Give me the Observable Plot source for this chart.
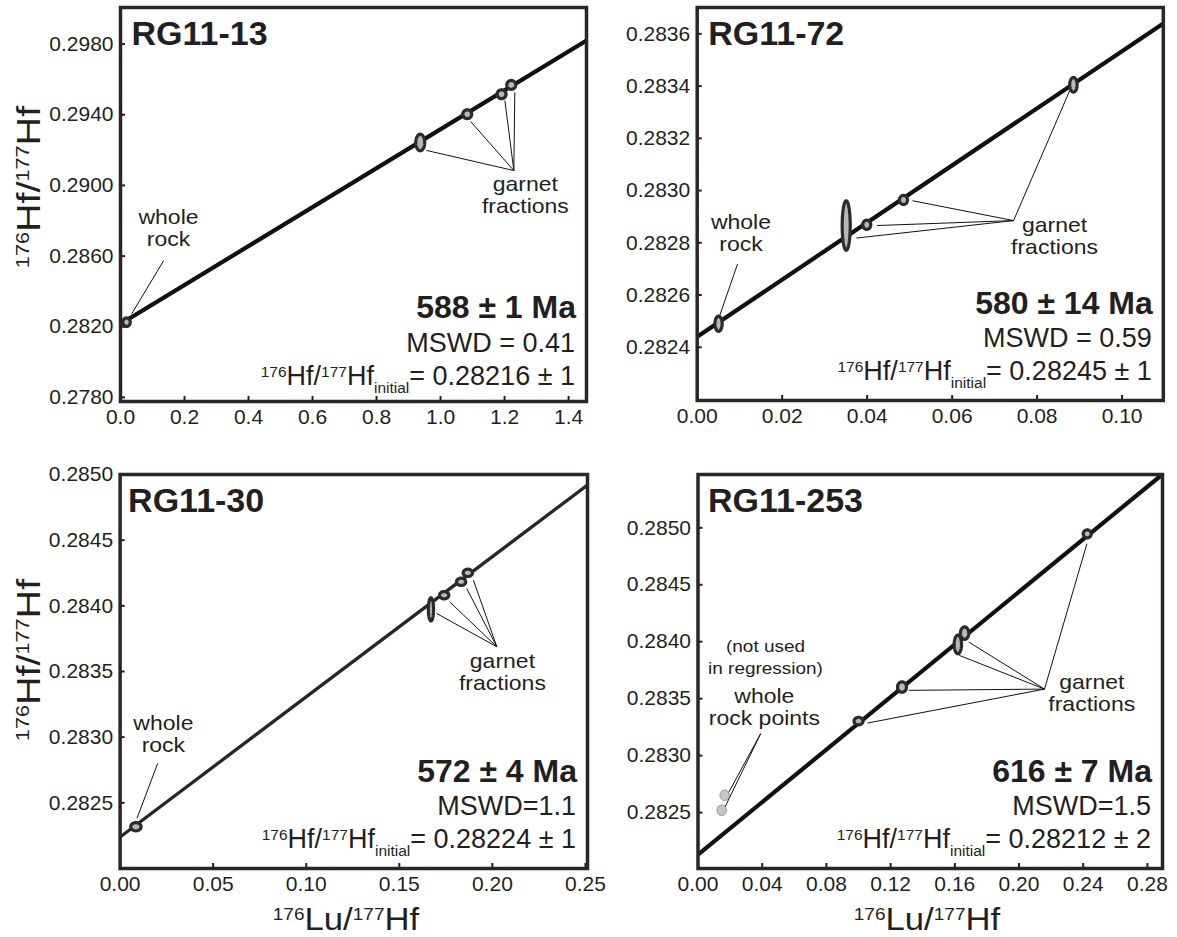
<!DOCTYPE html>
<html><head><meta charset="utf-8">
<script src="https://cdn.jsdelivr.net/npm/d3@7"></script>
<script src="https://cdn.jsdelivr.net/npm/@observablehq/plot@0.6"></script>
<style>
html,body{margin:0;padding:0;background:#fff;}
#chart{position:relative;width:1177px;height:937px;overflow:hidden;font-family:"Liberation Sans",Arial,sans-serif;}
#chart svg{position:absolute;overflow:visible;}
</style></head><body><div id="chart"></div>
<script>
// ---------- RG11-13 ----------
const p1Name = "RG11-13";
const p1XDomain = [0, 1.456];
const p1YDomain = [0.27777, 0.30007];
const p1XTicks = [0, 0.2, 0.4, 0.6, 0.8, 1.0, 1.2, 1.4];
const p1YTicks = [0.2780, 0.2820, 0.2860, 0.2900, 0.2940, 0.2980];
const p1IsoX = [0, 1.456];
const p1IsoY = [0.28216, 0.29820];
const p1PtX = [0.019, 0.9366, 1.0834, 1.1906, 1.221];
const p1PtY = [0.28226, 0.29243, 0.29403, 0.29516, 0.29569];
const p1ErrX = [0.0115, 0.0140, 0.0140, 0.0140, 0.0140];
const p1ErrY = [0.00024, 0.00047, 0.00025, 0.00025, 0.00025];
const p1Age = "588 ± 1 Ma", p1Mswd = "MSWD = 0.41", p1Init = "= 0.28216 ± 1";

// ---------- RG11-72 ----------
const p2Name = "RG11-72";
const p2XDomain = [0, 0.1097];
const p2YDomain = [0.282196, 0.283701];
const p2XTicks = [0, 0.02, 0.04, 0.06, 0.08, 0.10];
const p2YTicks = [0.2824, 0.2826, 0.2828, 0.2830, 0.2832, 0.2834, 0.2836];
const p2IsoX = [0, 0.1097];
const p2IsoY = [0.28244, 0.28364];
const p2PtX = [0.00502, 0.03507, 0.0399, 0.04855, 0.08855];
const p2PtY = [0.28249, 0.282866, 0.282869, 0.282964, 0.283405];
const p2ErrX = [0.00085, 0.00095, 0.00095, 0.00095, 0.00088];
const p2ErrY = [0.0000290, 0.0000950, 0.0000175, 0.0000175, 0.0000280];
const p2Age = "580 ± 14 Ma", p2Mswd = "MSWD = 0.59", p2Init = "= 0.28245 ± 1";

// ---------- RG11-30 ----------
const p3Name = "RG11-30";
const p3XDomain = [0, 0.2511];
const p3YDomain = [0.28200, 0.28500];
const p3XTicks = [0, 0.05, 0.10, 0.15, 0.20, 0.25];
const p3YTicks = [0.2825, 0.2830, 0.2835, 0.2840, 0.2845, 0.2850];
const p3IsoX = [0, 0.2511];
const p3IsoY = [0.28224, 0.28492];
const p3PtX = [0.0085, 0.167, 0.1741, 0.1832, 0.1868];
const p3PtY = [0.282318, 0.283973, 0.284081, 0.284183, 0.284251];
const p3ErrX = [0.0028, 0.0014, 0.0025, 0.0025, 0.0025];
const p3ErrY = [0.000031, 0.000088, 0.000028, 0.000028, 0.000028];
const p3Age = "572 ± 4 Ma", p3Mswd = "MSWD=1.1", p3Init = "= 0.28224 ± 1";

// ---------- RG11-253 ----------
const p4Name = "RG11-253";
const p4XDomain = [0, 0.2894];
const p4YDomain = [0.282009, 0.285468];
const p4XTicks = [0, 0.04, 0.08, 0.12, 0.16, 0.20, 0.24, 0.28];
const p4YTicks = [0.2825, 0.2830, 0.2835, 0.2840, 0.2845, 0.2850];
const p4IsoX = [0, 0.2894];
const p4IsoY = [0.28213, 0.28547];
const p4PtX = [0.1000, 0.1271, 0.1619, 0.1661, 0.2425];
const p4PtY = [0.283303, 0.283602, 0.283976, 0.284075, 0.284947];
const p4ErrX = [0.0028, 0.0028, 0.0023, 0.0026, 0.0025];
const p4ErrY = [0.000033, 0.000046, 0.000082, 0.000055, 0.000035];
const p4WrX = [0.01659, 0.01472];   // whole rock points, not used in regression
const p4WrY = [0.282652, 0.28252];
const p4WrErrX = [0.0029, 0.0029];
const p4WrErrY = [0.000046, 0.000046];
const p4Age = "616 ± 7 Ma", p4Mswd = "MSWD=1.5", p4Init = "= 0.28212 ± 2";

// ---------- annotations (label anchors and leader lines, data units) ----------
const p1Labels = [
  {x: 0.150, y: 0.28762, text: "whole\nrock"},
  {x: 1.265, y: 0.28947, text: "garnet\nfractions"}
];
const p1Leaders = [
  {x1: 0.135, y1: 0.28575, x2: 0.0353, y2: 0.28274},
  {x1: 1.229, y1: 0.29084, x2: 0.956, y2: 0.29198},
  {x1: 1.229, y1: 0.29084, x2: 1.094, y2: 0.29362},
  {x1: 1.229, y1: 0.29084, x2: 1.201, y2: 0.29480},
  {x1: 1.229, y1: 0.29084, x2: 1.232, y2: 0.29527}
];
const p2Labels = [
  {x: 0.0103, y: 0.282837, text: "whole\nrock"},
  {x: 0.0841, y: 0.282828, text: "garnet\nfractions"}
];
const p2Leaders = [
  {x1: 0.0095, y1: 0.282719, x2: 0.00529, y2: 0.282521},
  {x1: 0.07446, y1: 0.282885, x2: 0.08768, y2: 0.283383},
  {x1: 0.07446, y1: 0.282885, x2: 0.05067, y2: 0.282961},
  {x1: 0.07446, y1: 0.282885, x2: 0.04229, y2: 0.282866},
  {x1: 0.07446, y1: 0.282885, x2: 0.03746, y2: 0.282818}
];
const p3Labels = [
  {x: 0.02326, y: 0.283024, text: "whole\nrock"},
  {x: 0.2054, y: 0.283498, text: "garnet\nfractions"}
];
const p3Leaders = [
  {x1: 0.0202, y1: 0.282801, x2: 0.0091, y2: 0.282382},
  {x1: 0.2024, y1: 0.283688, x2: 0.17003, y2: 0.283942},
  {x1: 0.2024, y1: 0.283688, x2: 0.1771, y2: 0.28403},
  {x1: 0.2024, y1: 0.283688, x2: 0.1862, y2: 0.284132},
  {x1: 0.2024, y1: 0.283688, x2: 0.1898, y2: 0.284196}
];
const p4Labels = [
  {x: 0.04135, y: 0.283426, text: "whole\nrock points"},
  {x: 0.24532, y: 0.283553, text: "garnet\nfractions"}
];
const p4Notes = [
  {x: 0.04206, y: 0.283875, text: "(not used\nin regression)"}
];
const p4Leaders = [
  {x1: 0.03904, y1: 0.283193, x2: 0.01871, y2: 0.282667},
  {x1: 0.03904, y1: 0.283193, x2: 0.01682, y2: 0.282549},
  {x1: 0.21588, y1: 0.283584, x2: 0.2423, y2: 0.28486},
  {x1: 0.21588, y1: 0.283584, x2: 0.1687, y2: 0.283997},
  {x1: 0.21588, y1: 0.283584, x2: 0.1628, y2: 0.28388},
  {x1: 0.21588, y1: 0.283584, x2: 0.1313, y2: 0.283573},
  {x1: 0.21588, y1: 0.283584, x2: 0.10563, y2: 0.283286}
];

const axisYTitle = [{t: "176", s: true}, {t: "Hf/"}, {t: "177", s: true}, {t: "Hf"}];
const axisXTitle = [{t: "176", s: true}, {t: "Lu/"}, {t: "177", s: true}, {t: "Hf"}];

// ---------- drawing ----------
const FONT = '"Liberation Sans", Arial, Helvetica, sans-serif';
const INK = "#231f20";

function ellipseRows(xs, ys, exs, eys, tag) {
  const rows = [];
  xs.forEach((cx, i) => {
    for (let k = 0; k < 60; k++) {
      const t = 2 * Math.PI * k / 60;
      rows.push({id: tag + i, x: cx + exs[i] * Math.cos(t), y: ys[i] + eys[i] * Math.sin(t)});
    }
  });
  return rows;
}

function rich(g, parts, F, s, opts) {
  const t = g.append("text")
    .attr("text-anchor", opts.anchor || "middle")
    .attr("font-family", FONT).attr("fill", INK)
    .attr("font-size", F)
    .attr("transform", opts.transform);
  const up = 0.716 * F - 0.716 * s;
  let cur = 0;
  parts.forEach(p => {
    const target = p.s ? -up : (p.sub ? F * 0.3 : 0);
    t.append("tspan").attr("font-size", p.s || p.sub ? s : F)
      .attr("dy", target - cur).text(p.t);
    cur = target;
  });
  return t;
}

function panel(cfg) {
  const {box, m} = cfg;
  const fw = box.width - m.left - m.right, fh = box.height - m.top - m.bottom;
  const iso = cfg.isoX.map((x, i) => ({x, y: cfg.isoY[i]}));
  const ell = ellipseRows(cfg.ptX, cfg.ptY, cfg.errX, cfg.errY, "g");
  const marks = [
    Plot.axisX(cfg.xTicks, {tickSize: 0, tickPadding: 8, tickFormat: d3.format(cfg.xFmt), fontSize: 21, label: null}),
    Plot.axisY(cfg.yTicks, {tickSize: 0, tickPadding: 7, tickFormat: d3.format(".4f"), fontSize: 21, label: null}),
    Plot.tickX(cfg.xTicks, {x: d => d, insetTop: fh - 5, stroke: INK, strokeWidth: 2}),
    Plot.tickY(cfg.yTicks, {y: d => d, insetRight: fw - 5, stroke: INK, strokeWidth: 2}),
    Plot.line(iso, {x: "x", y: "y", stroke: cfg.lineColor, strokeWidth: cfg.lineWidth, clip: true}),
    Plot.link(cfg.leaders, {x1: "x1", y1: "y1", x2: "x2", y2: "y2", stroke: "#111", strokeWidth: 1})
  ];
  if (cfg.wrX) {
    marks.push(Plot.line(ellipseRows(cfg.wrX, cfg.wrY, cfg.wrErrX, cfg.wrErrY, "w"),
      {x: "x", y: "y", z: "id", curve: "linear-closed", stroke: "#8c8c8c", strokeWidth: 1, fill: "#c6c6c6"}));
  }
  marks.push(
    Plot.line(ell, {x: "x", y: "y", z: "id", curve: "linear-closed", stroke: "#2f2a2a", strokeWidth: 3.2, fill: "#b8b8b8"}),
    Plot.text(cfg.labels, {x: "x", y: "y", text: "text", fontSize: 20, lineHeight: 1.1, fill: INK, className: "ann"}),
  );
  if (cfg.notes) marks.push(Plot.text(cfg.notes, {x: "x", y: "y", text: "text", fontSize: 16.5, lineHeight: 1.32, fill: INK, className: "ann"}));
  marks.push(
    Plot.text([cfg.name], {frameAnchor: "top-left", lineAnchor: "top", dx: cfg.titleDx, dy: 13, fontSize: 34, fontWeight: "bold", fill: INK}),
    Plot.frame({stroke: "#2a2526", strokeWidth: 3.5})
  );
  const svg = Plot.plot({
    width: box.width, height: box.height,
    marginLeft: m.left, marginRight: m.right, marginTop: m.top, marginBottom: m.bottom,
    x: {domain: cfg.xDomain}, y: {domain: cfg.yDomain},
    style: {fontFamily: FONT, fontSize: "21px", color: INK, background: "transparent", overflow: "visible"},
    marks
  });
  svg.style.left = box.left + "px";
  svg.style.top = box.top + "px";
  // the source figure's lettering is slightly wide: stretch annotation labels horizontally
  d3.select(svg).selectAll("g.ann text").each(function () {
    const tr = this.getAttribute("transform") || "";
    this.setAttribute("transform", tr + " scale(1.15,1)");
  });
  const g = d3.select(svg).append("g");
  const R = box.width - m.right, B = box.height - m.bottom;
  g.append("text").attr("x", R - 10).attr("y", B - cfg.statsDy[0]).attr("text-anchor", "end")
    .attr("font-family", FONT).attr("font-weight", "bold").attr("font-size", 32).attr("fill", INK).text(cfg.age);
  g.append("text").attr("x", R - 11).attr("y", B - cfg.statsDy[1]).attr("text-anchor", "end")
    .attr("font-family", FONT).attr("font-size", 27).attr("fill", INK).text(cfg.mswd);
  rich(g, [{t: "176", s: true}, {t: "Hf/"}, {t: "177", s: true}, {t: "Hf"}, {t: "initial", sub: true}, {t: cfg.init}],
    27, 15.5, {anchor: "end", transform: `translate(${R - 11},${B - cfg.statsDy[2]})`});
  if (cfg.yTitle) rich(g, axisYTitle, 33, 18, {transform: `translate(${cfg.yTitle[0]},${cfg.yTitle[1]}) rotate(-90) scale(1.2,1)`});
  if (cfg.xTitle) rich(g, axisXTitle, 31, 17, {transform: `translate(${cfg.xTitle[0]},${cfg.xTitle[1]}) scale(1.12,1)`});
  document.getElementById("chart").appendChild(svg);
}

panel({name: p1Name, xDomain: p1XDomain, yDomain: p1YDomain, xTicks: p1XTicks, yTicks: p1YTicks, xFmt: ".1f",
  isoX: p1IsoX, isoY: p1IsoY, ptX: p1PtX, ptY: p1PtY, errX: p1ErrX, errY: p1ErrY,
  labels: p1Labels, leaders: p1Leaders, age: p1Age, mswd: p1Mswd, init: p1Init,
  box: {left: 0, top: 0, width: 590, height: 460}, m: {left: 120, right: 4, top: 7, bottom: 59},
  lineColor: "#111", lineWidth: 4.2, titleDx: 11, statsDy: [83, 49.5, 16], yTitle: [40, 187]});

panel({name: p2Name, xDomain: p2XDomain, yDomain: p2YDomain, xTicks: p2XTicks, yTicks: p2YTicks, xFmt: ".2f",
  isoX: p2IsoX, isoY: p2IsoY, ptX: p2PtX, ptY: p2PtY, errX: p2ErrX, errY: p2ErrY,
  labels: p2Labels, leaders: p2Leaders, age: p2Age, mswd: p2Mswd, init: p2Init,
  box: {left: 590, top: 0, width: 587, height: 460}, m: {left: 106.7, right: 14.2, top: 7, bottom: 60},
  lineColor: "#111", lineWidth: 4.2, titleDx: 11, statsDy: [86.5, 53, 20]});

panel({name: p3Name, xDomain: p3XDomain, yDomain: p3YDomain, xTicks: p3XTicks, yTicks: p3YTicks, xFmt: ".2f",
  isoX: p3IsoX, isoY: p3IsoY, ptX: p3PtX, ptY: p3PtY, errX: p3ErrX, errY: p3ErrY,
  labels: p3Labels, leaders: p3Leaders, age: p3Age, mswd: p3Mswd, init: p3Init,
  box: {left: 0, top: 460, width: 590, height: 477}, m: {left: 119.6, right: 3, top: 14, bottom: 69},
  lineColor: "#2b2626", lineWidth: 3.3, titleDx: 8, statsDy: [86.5, 53, 20], yTitle: [40, 200], xTitle: [346, 470]});

panel({name: p4Name, xDomain: p4XDomain, yDomain: p4YDomain, xTicks: p4XTicks, yTicks: p4YTicks, xFmt: ".2f",
  isoX: p4IsoX, isoY: p4IsoY, ptX: p4PtX, ptY: p4PtY, errX: p4ErrX, errY: p4ErrY,
  wrX: p4WrX, wrY: p4WrY, wrErrX: p4WrErrX, wrErrY: p4WrErrY,
  labels: p4Labels, notes: p4Notes, leaders: p4Leaders, age: p4Age, mswd: p4Mswd, init: p4Init,
  box: {left: 590, top: 460, width: 587, height: 477}, m: {left: 107.5, right: 15, top: 14, bottom: 69},
  lineColor: "#111", lineWidth: 4.2, titleDx: 10, statsDy: [86.5, 53, 20], xTitle: [337, 470]});
</script></body></html>
